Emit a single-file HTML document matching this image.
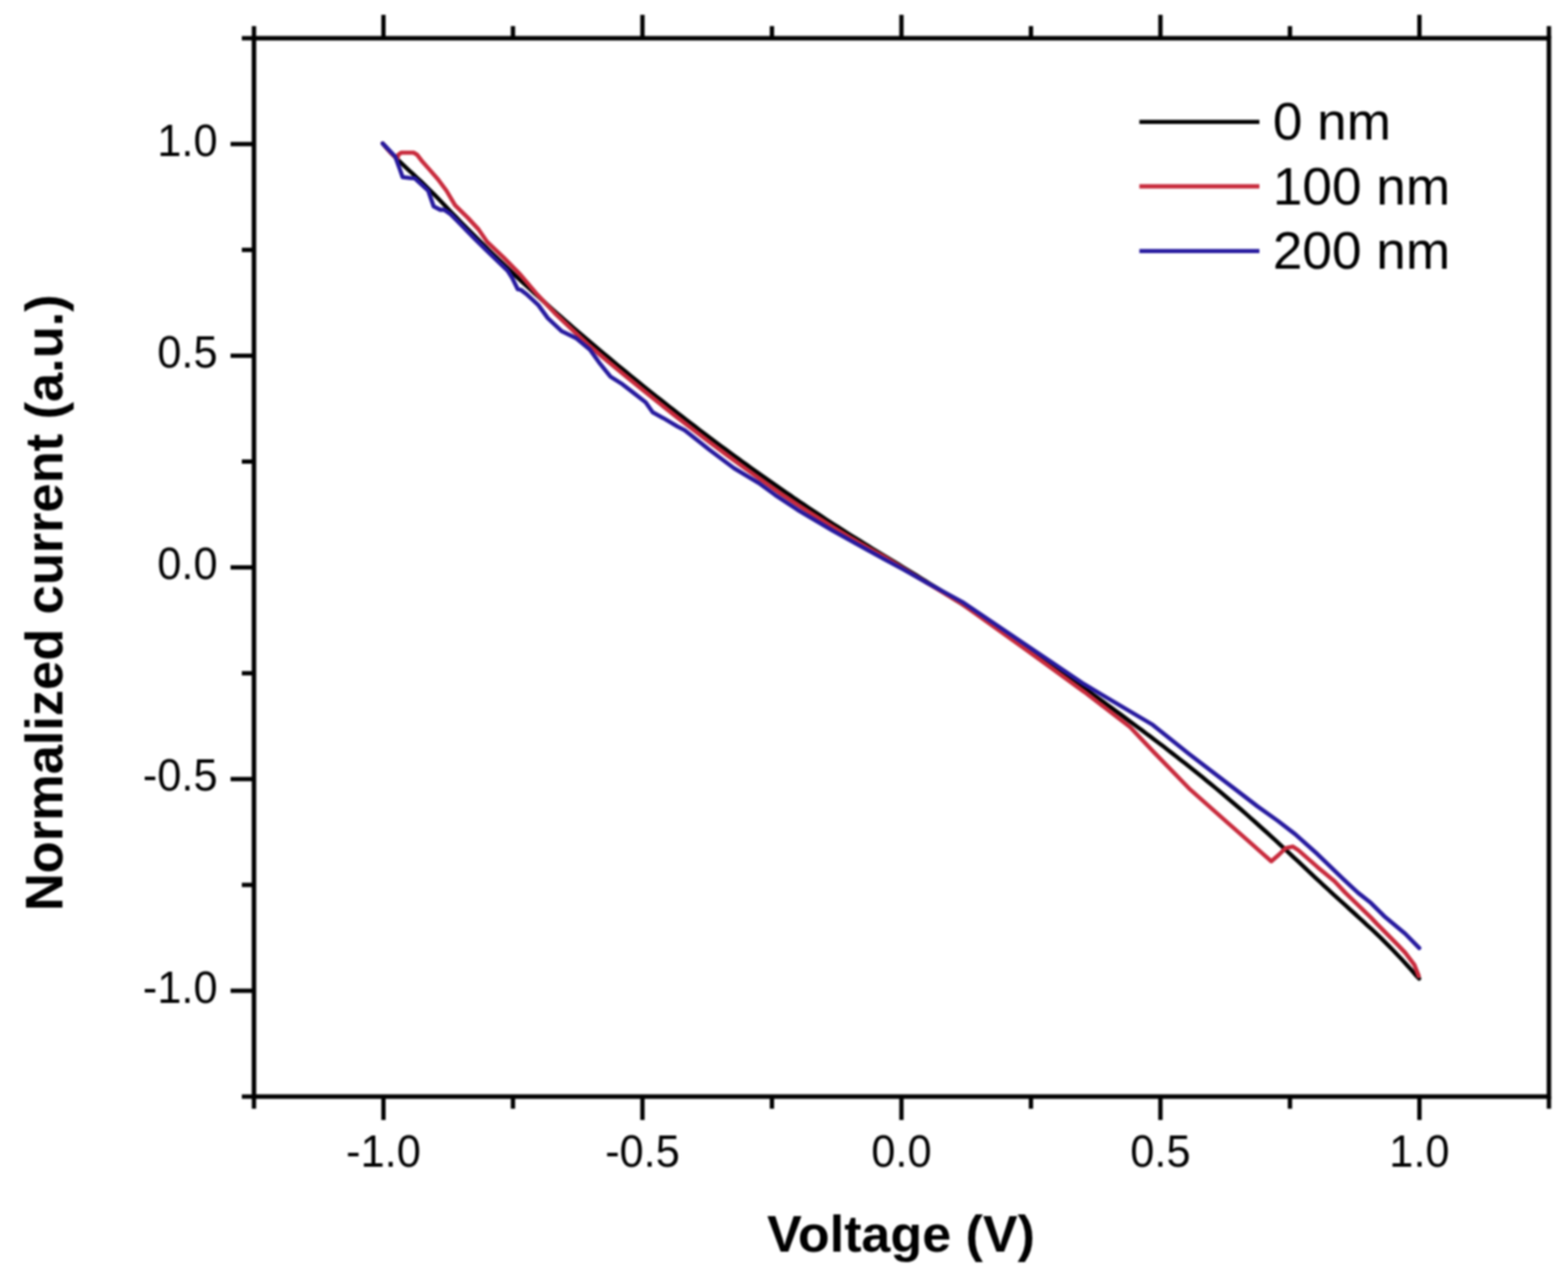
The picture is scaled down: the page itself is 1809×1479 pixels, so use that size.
<!DOCTYPE html>
<html><head><meta charset="utf-8"><title>Normalized current vs Voltage</title>
<style>
html,body{margin:0;padding:0;background:#fff;}
svg{display:block;filter:blur(1px);}
text{font-family:"Liberation Sans",Arial,sans-serif;fill:#000;}
</style></head>
<body>
<svg width="1809" height="1479" viewBox="0 0 1809 1479">
<rect x="0" y="0" width="1809" height="1479" fill="#fff"/>
<g stroke="#000" stroke-width="5" stroke-linecap="butt">
<line x1="293.0" y1="44.1" x2="293.0" y2="30.1"/>
<line x1="293.0" y1="1265.1" x2="293.0" y2="1279.1"/>
<line x1="442.4" y1="44.1" x2="442.4" y2="17.1"/>
<line x1="442.4" y1="1265.1" x2="442.4" y2="1292.1"/>
<line x1="591.8" y1="44.1" x2="591.8" y2="30.1"/>
<line x1="591.8" y1="1265.1" x2="591.8" y2="1279.1"/>
<line x1="741.2" y1="44.1" x2="741.2" y2="17.1"/>
<line x1="741.2" y1="1265.1" x2="741.2" y2="1292.1"/>
<line x1="890.6" y1="44.1" x2="890.6" y2="30.1"/>
<line x1="890.6" y1="1265.1" x2="890.6" y2="1279.1"/>
<line x1="1040.0" y1="44.1" x2="1040.0" y2="17.1"/>
<line x1="1040.0" y1="1265.1" x2="1040.0" y2="1292.1"/>
<line x1="1189.4" y1="44.1" x2="1189.4" y2="30.1"/>
<line x1="1189.4" y1="1265.1" x2="1189.4" y2="1279.1"/>
<line x1="1338.8" y1="44.1" x2="1338.8" y2="17.1"/>
<line x1="1338.8" y1="1265.1" x2="1338.8" y2="1292.1"/>
<line x1="1488.2" y1="44.1" x2="1488.2" y2="30.1"/>
<line x1="1488.2" y1="1265.1" x2="1488.2" y2="1279.1"/>
<line x1="1637.6" y1="44.1" x2="1637.6" y2="17.1"/>
<line x1="1637.6" y1="1265.1" x2="1637.6" y2="1292.1"/>
<line x1="1787.0" y1="44.1" x2="1787.0" y2="30.1"/>
<line x1="1787.0" y1="1265.1" x2="1787.0" y2="1279.1"/>
<line x1="293.0" y1="1265.1" x2="279.0" y2="1265.1"/>
<line x1="293.0" y1="1143.0" x2="266.0" y2="1143.0"/>
<line x1="293.0" y1="1020.9" x2="279.0" y2="1020.9"/>
<line x1="293.0" y1="898.8" x2="266.0" y2="898.8"/>
<line x1="293.0" y1="776.7" x2="279.0" y2="776.7"/>
<line x1="293.0" y1="654.6" x2="266.0" y2="654.6"/>
<line x1="293.0" y1="532.5" x2="279.0" y2="532.5"/>
<line x1="293.0" y1="410.4" x2="266.0" y2="410.4"/>
<line x1="293.0" y1="288.3" x2="279.0" y2="288.3"/>
<line x1="293.0" y1="166.2" x2="266.0" y2="166.2"/>
<line x1="293.0" y1="44.1" x2="279.0" y2="44.1"/>
</g>
<rect x="293.0" y="44.1" width="1494.0" height="1221.0" fill="none" stroke="#000" stroke-width="5.2"/>
<g fill="none" stroke-width="4.8" stroke-linejoin="round" stroke-linecap="round">
<polyline stroke="#000" points="441.5,165.5 446.5,171.3 451.5,176.7 456.5,181.8 461.5,186.7 466.5,191.5 471.5,196.2 476.5,200.8 481.5,205.4 486.5,210.1 491.5,215.0 496.5,219.9 501.6,225.0 506.6,230.2 511.6,235.4 516.6,240.6 521.6,245.8 526.6,251.0 531.6,256.1 536.6,261.2 541.6,266.3 546.6,271.3 551.6,276.3 556.6,281.3 561.6,286.2 566.6,291.1 571.6,295.9 576.6,300.7 581.6,305.5 586.6,310.3 591.6,315.0 596.6,319.7 601.6,324.4 606.6,329.0 611.6,333.6 616.6,338.2 621.7,342.7 626.7,347.3 631.7,351.8 636.7,356.2 641.7,360.7 646.7,365.1 651.7,369.5 656.7,373.9 661.7,378.2 666.7,382.5 671.7,386.8 676.7,391.1 681.7,395.4 686.7,399.6 691.7,403.8 696.7,408.0 701.7,412.2 706.7,416.4 711.7,420.5 716.7,424.6 721.7,428.7 726.7,432.8 731.7,436.9 736.7,440.9 741.8,445.0 746.8,449.0 751.8,453.0 756.8,457.0 761.8,460.9 766.8,464.9 771.8,468.8 776.8,472.7 781.8,476.6 786.8,480.5 791.8,484.4 796.8,488.2 801.8,492.0 806.8,495.8 811.8,499.6 816.8,503.4 821.8,507.2 826.8,510.9 831.8,514.6 836.8,518.3 841.8,522.0 846.8,525.7 851.8,529.3 856.8,532.9 861.9,536.5 866.9,540.1 871.9,543.7 876.9,547.3 881.9,550.8 886.9,554.3 891.9,557.8 896.9,561.3 901.9,564.8 906.9,568.2 911.9,571.6 916.9,575.1 921.9,578.4 926.9,581.8 931.9,585.2 936.9,588.5 941.9,591.8 946.9,595.1 951.9,598.4 956.9,601.7 961.9,604.9 966.9,608.1 971.9,611.3 976.9,614.5 982.0,617.7 987.0,620.8 992.0,623.9 997.0,627.0 1002.0,630.1 1007.0,633.2 1012.0,636.3 1017.0,639.3 1022.0,642.3 1027.0,645.4 1032.0,648.4 1037.0,651.4 1042.0,654.5 1047.0,657.5 1052.0,660.5 1057.0,663.6 1062.0,666.7 1067.0,669.7 1072.0,672.9 1077.0,676.0 1082.0,679.1 1087.0,682.3 1092.0,685.5 1097.0,688.6 1102.1,691.9 1107.1,695.1 1112.1,698.3 1117.1,701.6 1122.1,704.9 1127.1,708.2 1132.1,711.5 1137.1,714.8 1142.1,718.2 1147.1,721.6 1152.1,724.9 1157.1,728.3 1162.1,731.7 1167.1,735.1 1172.1,738.6 1177.1,742.0 1182.1,745.5 1187.1,748.9 1192.1,752.4 1197.1,755.9 1202.1,759.4 1207.1,762.9 1212.1,766.4 1217.1,769.9 1222.2,773.5 1227.2,777.0 1232.2,780.6 1237.2,784.1 1242.2,787.7 1247.2,791.3 1252.2,794.9 1257.2,798.5 1262.2,802.1 1267.2,805.7 1272.2,809.3 1277.2,812.9 1282.2,816.5 1287.2,820.2 1292.2,823.8 1297.2,827.5 1302.2,831.2 1307.2,834.9 1312.2,838.6 1317.2,842.3 1322.2,846.1 1327.2,849.8 1332.2,853.6 1337.2,857.4 1342.3,861.2 1347.3,865.1 1352.3,869.0 1357.3,872.8 1362.3,876.8 1367.3,880.7 1372.3,884.7 1377.3,888.6 1382.3,892.7 1387.3,896.7 1392.3,900.8 1397.3,904.9 1402.3,909.0 1407.3,913.1 1412.3,917.3 1417.3,921.6 1422.3,925.8 1427.3,930.1 1432.3,934.4 1437.3,938.8 1442.3,943.2 1447.3,947.6 1452.3,952.1 1457.3,956.6 1462.4,961.1 1467.4,965.7 1472.4,970.3 1477.4,974.9 1482.4,979.6 1487.4,984.2 1492.4,988.9 1497.4,993.6 1502.4,998.3 1507.4,1003.0 1512.4,1007.7 1517.4,1012.4 1522.4,1017.0 1527.4,1021.7 1532.4,1026.3 1537.4,1030.9 1542.4,1035.5 1547.4,1040.0 1552.4,1044.6 1557.4,1049.1 1562.4,1053.6 1567.4,1058.2 1572.4,1062.8 1577.4,1067.4 1582.5,1072.1 1587.5,1076.8 1592.5,1081.6 1597.5,1086.5 1602.5,1091.5 1607.5,1096.6 1612.5,1101.8 1617.5,1107.1 1622.5,1112.6 1627.5,1118.2 1632.5,1124.0 1637.3,1129.0"/>
<polyline stroke="#c82a3c" points="441.5,165.5 450.0,175.5 458.5,183.5 459.5,178.5 463.1,176.1 477.2,176.1 481.0,178.3 486.4,185.3 494.5,194.5 505.3,206.9 515.0,219.9 525.0,236.8 540.0,251.5 552.0,264.5 562.0,279.0 580.9,297.0 600.5,317.0 620.0,340.0 640.0,361.2 660.0,380.2 680.0,398.9 700.0,415.8 720.0,432.4 740.0,448.7 760.0,464.7 780.0,480.5 800.0,495.9 820.0,511.1 840.0,526.0 860.0,540.6 880.0,554.9 900.0,569.0 920.0,582.2 940.0,595.0 960.0,607.6 980.0,619.7 1000.0,631.4 1020.0,642.4 1040.0,654.6 1110.3,697.0 1180.6,747.2 1250.9,798.2 1303.6,838.6 1330.0,866.5 1371.9,909.7 1413.9,947.0 1440.3,970.2 1457.2,985.2 1466.7,993.6 1475.4,986.1 1482.9,978.7 1491.7,976.7 1497.8,980.7 1520.0,1000.3 1539.6,1016.6 1552.2,1030.0 1581.6,1058.5 1588.7,1066.0 1613.0,1090.5 1621.1,1099.0 1631.7,1113.0 1636.8,1126.0"/>
<polyline stroke="#26199e" points="441.5,165.5 456.0,180.6 461.0,194.5 464.5,204.4 473.0,205.3 478.5,205.7 494.0,219.9 500.3,238.1 507.9,242.0 512.5,242.0 520.0,247.2 547.0,274.7 565.0,292.5 569.2,296.6 585.5,312.2 590.8,320.5 597.3,333.6 601.1,334.5 607.1,339.1 621.1,352.0 632.0,367.0 648.2,382.2 664.4,390.0 680.6,403.3 692.2,419.6 704.3,434.4 716.5,442.2 728.7,451.5 744.9,464.1 753.0,475.6 765.2,482.3 781.4,491.9 790.0,496.3 818.4,518.9 846.8,540.1 875.2,557.1 894.1,570.9 920.0,588.1 960.6,612.1 1001.1,634.7 1041.7,656.7 1070.0,672.6 1110.3,694.5 1180.6,741.9 1250.9,789.4 1330.0,836.3 1371.9,869.8 1434.8,918.0 1450.4,930.0 1474.1,946.9 1494.4,962.5 1520.0,985.4 1550.1,1014.5 1566.8,1030.0 1581.6,1041.7 1596.8,1056.8 1621.1,1077.1 1637.4,1093.7"/>
</g>
<g font-size="50">
<text transform="translate(251,179.7) scale(1,1.04)" text-anchor="end">1.0</text>
<text transform="translate(251,423.9) scale(1,1.04)" text-anchor="end">0.5</text>
<text transform="translate(251,668.1) scale(1,1.04)" text-anchor="end">0.0</text>
<text transform="translate(251,912.3) scale(1,1.04)" text-anchor="end">-0.5</text>
<text transform="translate(251,1156.5) scale(1,1.04)" text-anchor="end">-1.0</text>
<text transform="translate(442.4,1345.5) scale(1,1.04)" text-anchor="middle">-1.0</text>
<text transform="translate(741.2,1345.5) scale(1,1.04)" text-anchor="middle">-0.5</text>
<text transform="translate(1040.0,1345.5) scale(1,1.04)" text-anchor="middle">0.0</text>
<text transform="translate(1338.8,1345.5) scale(1,1.04)" text-anchor="middle">0.5</text>
<text transform="translate(1637.6,1345.5) scale(1,1.04)" text-anchor="middle">1.0</text>
</g>
<g stroke-width="4.8">
<line x1="1314.5" y1="140.6" x2="1453" y2="140.6" stroke="#000"/>
<line x1="1314.5" y1="215" x2="1453" y2="215" stroke="#c82a3c"/>
<line x1="1314.5" y1="289.6" x2="1453" y2="289.6" stroke="#26199e"/>
</g>
<g font-size="61.3">
<text x="1468.5" y="161.4">0 nm</text>
<text x="1468.5" y="235.9">100 nm</text>
<text x="1468.5" y="310.4">200 nm</text>
</g>
<text x="885" y="1443.7" font-size="60" font-weight="bold">Voltage (V)</text>
<text transform="translate(72,1051) rotate(-90) scale(1,1.02)" x="0" y="0" font-size="60.4" font-weight="bold">Normalized current (a.u.)</text>
</svg>
</body></html>
